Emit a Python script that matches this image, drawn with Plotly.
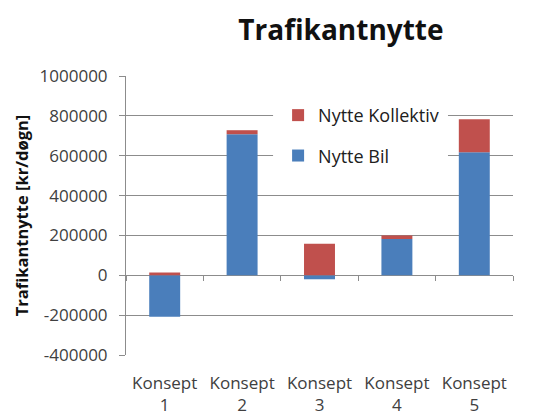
import plotly.graph_objects as go

# Data
konsept = ["Konsept<br>1", "Konsept<br>2", "Konsept<br>3", "Konsept<br>4", "Konsept<br>5"]
nytte_bil = [-208000, 708000, -20000, 182000, 617000]
nytte_kollektiv = [14000, 20000, 158000, 18000, 166000]

y_ticks = [-400000, -200000, 0, 200000, 400000, 600000, 800000, 1000000]
y_ticktext = ["-400000", "-200000", "0", "200000", "400000", "600000", "800000", "1000000"]

BLUE = "#4A7EBB"
RED = "#C0504D"
GRID = "#8C8C8C"
FONT = "Open Sans, sans-serif"

fig = go.Figure()
fig.add_trace(go.Bar(
    x=konsept, y=nytte_bil, name="Nytte Bil",
    marker=dict(color=BLUE, line=dict(width=0)),
    legendgroup="bil", legendrank=2,
))
fig.add_trace(go.Bar(
    x=konsept, y=nytte_kollektiv, name="Nytte Kollektiv",
    marker=dict(color=RED, line=dict(width=0)),
    legendgroup="kol", legendrank=1,
))
# invisible helper trace so the tick marks along the zero line get drawn
fig.add_trace(go.Scatter(
    x=konsept, y=nytte_bil, xaxis="x2", mode="markers",
    marker=dict(opacity=0), showlegend=False, hoverinfo="skip",
))

# white box behind the legend (hides the gridlines like in the original)
fig.add_shape(type="rect", xref="paper", yref="paper",
              x0=0.38, x1=0.832, y0=0.674, y1=0.903,
              fillcolor="white", line=dict(width=0), layer="above")

# page body has an 8px margin, so the figure is 8px smaller and margins shifted
fig.update_layout(
    barmode="relative",
    bargap=0.6,
    width=526, height=408,
    paper_bgcolor="white", plot_bgcolor="white",
    font=dict(family=FONT, color="#404040"),
    margin=dict(l=118, r=21, t=68, b=61, autoexpand=False),
    title=dict(
        text="<b>Trafikantnytte</b>",
        font=dict(size=28, color="#111111", family=FONT),
        x=0.633, xanchor="center", y=0.946, yanchor="middle",
        xref="container", yref="container",
    ),
    legend=dict(
        x=0.393, y=0.925, xanchor="left", yanchor="top",
        bgcolor="rgba(0,0,0,0)", traceorder="grouped",
        tracegroupgap=14,
        font=dict(size=18, color="#202020", family=FONT),
        itemwidth=30,
    ),
    yaxis=dict(
        range=[-400000, 1000000], automargin=False,
        tickvals=y_ticks, ticktext=y_ticktext,
        showgrid=True, gridcolor=GRID, gridwidth=1,
        zeroline=True, zerolinecolor=GRID, zerolinewidth=1,
        showline=True, linecolor=GRID,
        ticks="outside", ticklen=6, tickcolor=GRID,
        ticklabelstandoff=8,
        tickfont=dict(size=17, color="#404040"),
        title=dict(text="<b>Trafikantnytte [kr/døgn]</b>",
                   font=dict(size=16.5, color="#111111"), standoff=6),
    ),
    xaxis=dict(
        showgrid=False, showline=False, automargin=False,
        ticklabelstandoff=16,
        tickfont=dict(size=17, color="#404040"),
    ),
    xaxis2=dict(
        overlaying="x", matches="x", anchor="free", position=0.2867,
        showgrid=False, showline=False, zeroline=False,
        showticklabels=False, ticks="outside", ticklen=5,
        tickcolor=GRID, tickson="boundaries",
    ),
)

fig.write_html("out.html")
